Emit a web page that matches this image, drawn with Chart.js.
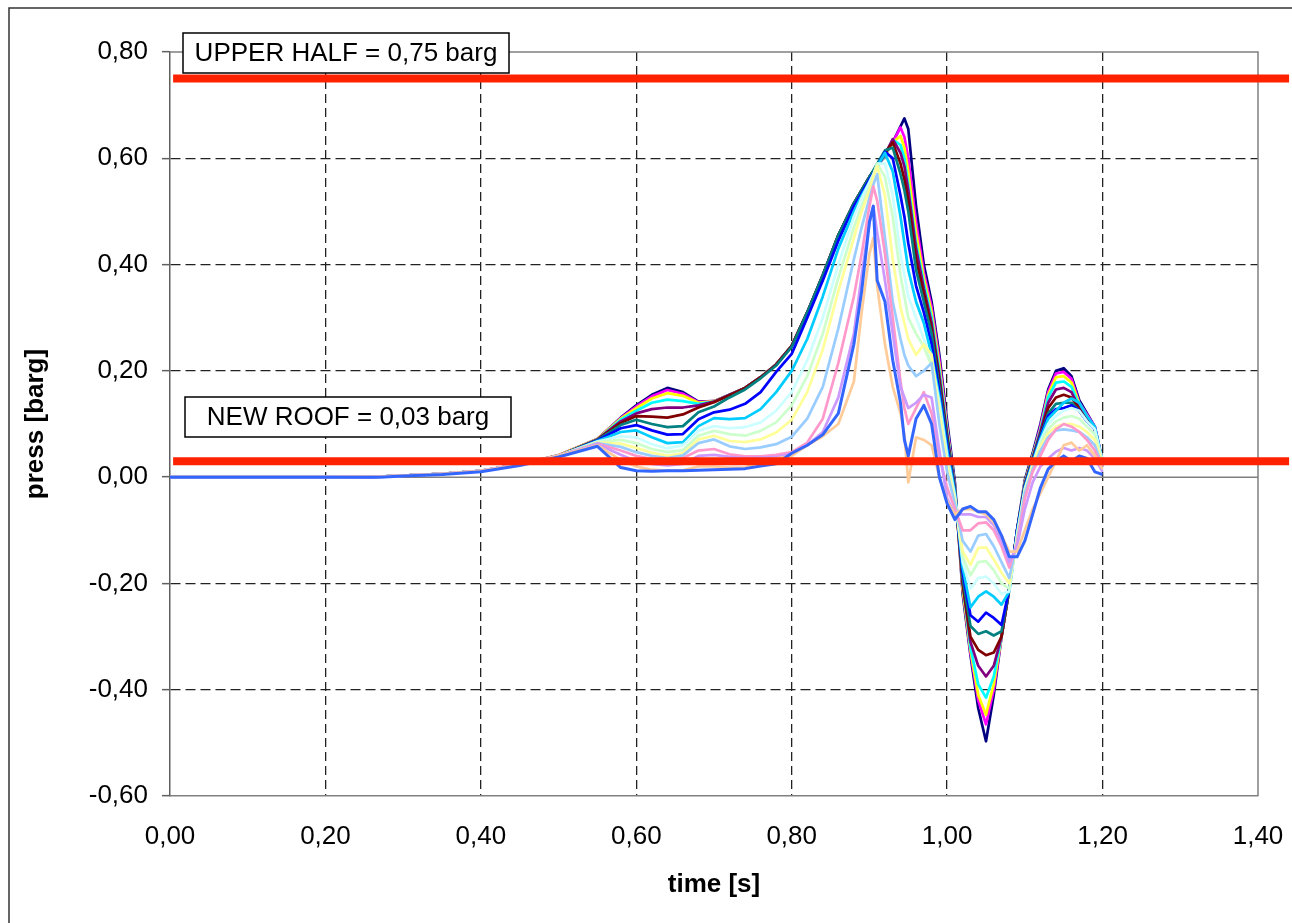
<!DOCTYPE html>
<html>
<head>
<meta charset="utf-8">
<script src="https://cdn.jsdelivr.net/npm/chart.js@4.4.0/dist/chart.umd.min.js"></script>
<style>
  html, body { margin: 0; padding: 0; background: #ffffff; }
  canvas { display: block; }
</style>
</head>
<body>
<canvas id="chart" width="1292" height="923"></canvas>
<script>
// Sample times [s]
const timeS = [0, 0.1, 0.2, 0.27, 0.3, 0.35, 0.4, 0.45, 0.5, 0.55,
  0.58, 0.6, 0.62, 0.64, 0.66, 0.68, 0.7, 0.72, 0.74, 0.76,
  0.78, 0.8, 0.82, 0.84, 0.86, 0.88, 0.89, 0.9, 0.905, 0.91,
  0.92, 0.93, 0.94, 0.945, 0.95, 0.96, 0.97, 0.98, 0.99, 1.0,
  1.01, 1.02, 1.03, 1.04, 1.05, 1.06, 1.07, 1.08, 1.09, 1.1,
  1.11, 1.12, 1.13, 1.14, 1.15, 1.16, 1.17, 1.18, 1.19, 1.2];

// Pressure traces [barg], one per measuring point
const p01 = [0, 0, 0, 0.001, 0.003, 0.006, 0.012, 0.024, 0.041, 0.072,
  0.112, 0.135, 0.155, 0.168, 0.160, 0.142, 0.143, 0.155, 0.168, 0.188,
  0.212, 0.247, 0.31, 0.38, 0.455, 0.515, 0.54, 0.565, 0.575, 0.585,
  0.605, 0.63, 0.66, 0.675, 0.655, 0.51, 0.40, 0.33, 0.23, 0.105,
  -0.01, -0.22, -0.335, -0.435, -0.497, -0.41, -0.30, -0.21, -0.10, -0.005,
  0.045, 0.10, 0.165, 0.20, 0.205, 0.19, 0.145, 0.12, 0.095, 0.03];
const p02 = [0, 0, 0, 0.001, 0.003, 0.006, 0.012, 0.024, 0.041, 0.072,
  0.111, 0.133, 0.152, 0.164, 0.157, 0.141, 0.143, 0.155, 0.168, 0.188,
  0.212, 0.247, 0.31, 0.38, 0.455, 0.515, 0.54, 0.565, 0.575, 0.585,
  0.605, 0.63, 0.658, 0.64, 0.60, 0.48, 0.385, 0.32, 0.22, 0.095,
  -0.02, -0.21, -0.33, -0.42, -0.465, -0.40, -0.30, -0.21, -0.10, -0.01,
  0.04, 0.095, 0.16, 0.195, 0.198, 0.185, 0.14, 0.118, 0.095, 0.03];
const p03 = [0, 0, 0, 0.001, 0.003, 0.006, 0.012, 0.024, 0.041, 0.072,
  0.110, 0.130, 0.148, 0.158, 0.153, 0.140, 0.143, 0.155, 0.168, 0.188,
  0.212, 0.247, 0.31, 0.38, 0.455, 0.515, 0.54, 0.565, 0.575, 0.585,
  0.605, 0.63, 0.642, 0.62, 0.575, 0.46, 0.375, 0.31, 0.21, 0.09,
  -0.02, -0.21, -0.325, -0.41, -0.447, -0.39, -0.30, -0.21, -0.10, -0.01,
  0.04, 0.09, 0.155, 0.188, 0.19, 0.178, 0.138, 0.115, 0.09, 0.03];
const p04 = [0, 0, 0, 0.001, 0.003, 0.006, 0.012, 0.024, 0.040, 0.071,
  0.108, 0.125, 0.140, 0.146, 0.143, 0.138, 0.142, 0.155, 0.168, 0.188,
  0.212, 0.247, 0.31, 0.38, 0.455, 0.515, 0.54, 0.565, 0.575, 0.585,
  0.605, 0.635, 0.625, 0.60, 0.55, 0.44, 0.365, 0.30, 0.20, 0.085,
  -0.02, -0.20, -0.32, -0.39, -0.415, -0.375, -0.30, -0.21, -0.10, -0.012,
  0.038, 0.088, 0.15, 0.178, 0.18, 0.17, 0.135, 0.112, 0.09, 0.03];
const p05 = [0, 0, 0, 0.001, 0.003, 0.006, 0.012, 0.024, 0.040, 0.071,
  0.105, 0.120, 0.128, 0.131, 0.131, 0.135, 0.142, 0.155, 0.168, 0.188,
  0.212, 0.247, 0.31, 0.38, 0.455, 0.515, 0.54, 0.565, 0.575, 0.585,
  0.607, 0.636, 0.61, 0.585, 0.54, 0.43, 0.355, 0.29, 0.19, 0.08,
  -0.02, -0.20, -0.31, -0.355, -0.375, -0.355, -0.30, -0.21, -0.10, -0.012,
  0.036, 0.085, 0.14, 0.165, 0.168, 0.16, 0.13, 0.11, 0.09, 0.03];
const p06 = [0, 0, 0, 0.001, 0.003, 0.006, 0.012, 0.024, 0.040, 0.070,
  0.102, 0.115, 0.114, 0.112, 0.118, 0.131, 0.141, 0.154, 0.168, 0.188,
  0.212, 0.247, 0.31, 0.38, 0.455, 0.515, 0.54, 0.565, 0.576, 0.587,
  0.61, 0.63, 0.59, 0.56, 0.52, 0.41, 0.345, 0.28, 0.18, 0.075,
  -0.025, -0.20, -0.30, -0.325, -0.335, -0.33, -0.30, -0.21, -0.10, -0.015,
  0.034, 0.08, 0.13, 0.15, 0.155, 0.15, 0.128, 0.108, 0.09, 0.03];
const p07 = [0, 0, 0, 0.001, 0.003, 0.006, 0.012, 0.024, 0.040, 0.070,
  0.098, 0.108, 0.100, 0.094, 0.096, 0.122, 0.133, 0.150, 0.165, 0.186,
  0.210, 0.245, 0.31, 0.38, 0.455, 0.515, 0.54, 0.565, 0.577, 0.59,
  0.615, 0.62, 0.57, 0.54, 0.50, 0.39, 0.33, 0.27, 0.17, 0.07,
  -0.025, -0.19, -0.28, -0.295, -0.29, -0.298, -0.29, -0.21, -0.10, -0.015,
  0.032, 0.078, 0.12, 0.138, 0.14, 0.14, 0.125, 0.105, 0.09, 0.03];
const p08 = [0, 0, 0, 0.001, 0.003, 0.006, 0.012, 0.024, 0.040, 0.069,
  0.092, 0.098, 0.088, 0.080, 0.081, 0.109, 0.122, 0.127, 0.138, 0.160,
  0.198, 0.232, 0.30, 0.37, 0.445, 0.51, 0.535, 0.56, 0.572, 0.585,
  0.612, 0.60, 0.53, 0.49, 0.44, 0.36, 0.31, 0.25, 0.16, 0.06,
  -0.03, -0.18, -0.26, -0.272, -0.255, -0.265, -0.278, -0.21, -0.10, -0.018,
  0.03, 0.075, 0.115, 0.128, 0.13, 0.135, 0.125, 0.105, 0.09, 0.03];
const p09 = [0, 0, 0, 0.001, 0.003, 0.006, 0.012, 0.024, 0.040, 0.068,
  0.085, 0.088, 0.075, 0.064, 0.066, 0.096, 0.111, 0.109, 0.111, 0.128,
  0.160, 0.200, 0.26, 0.34, 0.43, 0.50, 0.53, 0.555, 0.57, 0.585,
  0.61, 0.575, 0.49, 0.44, 0.39, 0.33, 0.29, 0.23, 0.15, 0.05,
  -0.03, -0.17, -0.245, -0.225, -0.215, -0.225, -0.24, -0.215, -0.105, -0.02,
  0.028, 0.072, 0.11, 0.125, 0.14, 0.148, 0.14, 0.115, 0.095, 0.03];
const p10 = [0, 0, 0, 0.001, 0.003, 0.006, 0.012, 0.024, 0.040, 0.067,
  0.077, 0.075, 0.062, 0.054, 0.060, 0.087, 0.096, 0.092, 0.094, 0.103,
  0.125, 0.160, 0.22, 0.30, 0.40, 0.49, 0.525, 0.555, 0.57, 0.59,
  0.59, 0.53, 0.42, 0.38, 0.34, 0.30, 0.26, 0.22, 0.14, 0.04,
  -0.035, -0.16, -0.21, -0.19, -0.187, -0.20, -0.22, -0.215, -0.11, -0.022,
  0.025, 0.068, 0.10, 0.115, 0.125, 0.13, 0.125, 0.105, 0.09, 0.03];
const p11 = [0, 0, 0, 0.001, 0.003, 0.006, 0.012, 0.024, 0.040, 0.066,
  0.070, 0.064, 0.053, 0.047, 0.051, 0.078, 0.087, 0.081, 0.078, 0.087,
  0.103, 0.135, 0.19, 0.27, 0.375, 0.47, 0.51, 0.545, 0.568, 0.59,
  0.565, 0.49, 0.38, 0.34, 0.30, 0.27, 0.245, 0.21, 0.13, 0.03,
  -0.04, -0.15, -0.185, -0.16, -0.158, -0.175, -0.20, -0.21, -0.11, -0.025,
  0.022, 0.063, 0.09, 0.105, 0.112, 0.115, 0.11, 0.095, 0.08, 0.03];
const p12 = [0, 0, 0, 0.001, 0.003, 0.006, 0.012, 0.024, 0.040, 0.065,
  0.063, 0.055, 0.046, 0.040, 0.045, 0.071, 0.078, 0.068, 0.066, 0.071,
  0.084, 0.108, 0.16, 0.24, 0.35, 0.45, 0.50, 0.54, 0.565, 0.585,
  0.53, 0.41, 0.32, 0.29, 0.26, 0.23, 0.25, 0.23, 0.12, 0.02,
  -0.045, -0.14, -0.165, -0.133, -0.132, -0.155, -0.18, -0.20, -0.115, -0.028,
  0.02, 0.058, 0.082, 0.095, 0.10, 0.10, 0.095, 0.085, 0.07, 0.025];
const p13 = [0, 0, 0, 0.001, 0.003, 0.006, 0.012, 0.024, 0.040, 0.064,
  0.057, 0.047, 0.040, 0.036, 0.041, 0.064, 0.071, 0.058, 0.053, 0.056,
  0.062, 0.076, 0.11, 0.17, 0.28, 0.41, 0.47, 0.525, 0.55, 0.57,
  0.45, 0.33, 0.26, 0.23, 0.21, 0.19, 0.20, 0.215, 0.10, 0.01,
  -0.05, -0.12, -0.14, -0.11, -0.107, -0.13, -0.16, -0.19, -0.12, -0.03,
  0.015, 0.05, 0.075, 0.088, 0.09, 0.088, 0.085, 0.075, 0.06, 0.02];
const p14 = [0, 0, 0, 0.001, 0.003, 0.006, 0.012, 0.024, 0.040, 0.063,
  0.050, 0.040, 0.034, 0.030, 0.036, 0.050, 0.053, 0.043, 0.039, 0.039,
  0.042, 0.047, 0.065, 0.11, 0.215, 0.34, 0.42, 0.51, 0.547, 0.52,
  0.42, 0.30, 0.18, 0.13, 0.10, 0.13, 0.16, 0.12, 0.04, -0.02,
  -0.06, -0.10, -0.10, -0.087, -0.085, -0.10, -0.13, -0.17, -0.125, -0.04,
  0.01, 0.04, 0.07, 0.09, 0.10, 0.095, 0.085, 0.07, 0.05, 0.02];
const p15 = [0, 0, 0, 0.001, 0.003, 0.006, 0.012, 0.024, 0.040, 0.062,
  0.042, 0.030, 0.025, 0.022, 0.025, 0.040, 0.042, 0.038, 0.036, 0.037,
  0.038, 0.044, 0.06, 0.085, 0.15, 0.27, 0.38, 0.48, 0.51, 0.46,
  0.37, 0.27, 0.17, 0.15, 0.13, 0.14, 0.155, 0.15, 0.05, -0.04,
  -0.07, -0.07, -0.07, -0.075, -0.075, -0.09, -0.12, -0.16, -0.13, -0.06,
  -0.01, 0.02, 0.035, 0.048, 0.055, 0.05, 0.055, 0.05, 0.035, 0.01];
const p16 = [0, 0, 0, 0.001, 0.003, 0.006, 0.012, 0.023, 0.040, 0.060,
  0.032, 0.020, 0.014, 0.012, 0.013, 0.020, 0.020, 0.018, 0.018, 0.030,
  0.035, 0.040, 0.06, 0.077, 0.10, 0.18, 0.31, 0.42, 0.45, 0.36,
  0.25, 0.17, 0.12, 0.08, -0.01, 0.075, 0.07, 0.06, 0.00, -0.045,
  -0.07, -0.06, -0.06, -0.065, -0.07, -0.085, -0.11, -0.14, -0.14, -0.10,
  -0.06, -0.03, 0.00, 0.03, 0.06, 0.065, 0.05, 0.06, 0.04, 0.015];
const p17 = [0, 0, 0, 0, 0.002, 0.005, 0.010, 0.022, 0.038, 0.058,
  0.018, 0.012, 0.011, 0.012, 0.012, 0.013, 0.014, 0.015, 0.016, 0.021,
  0.025, 0.045, 0.06, 0.08, 0.12, 0.25, 0.35, 0.48, 0.51, 0.37,
  0.33, 0.22, 0.14, 0.07, 0.04, 0.11, 0.135, 0.10, 0.00, -0.05,
  -0.08, -0.06, -0.055, -0.065, -0.065, -0.08, -0.11, -0.15, -0.15, -0.12,
  -0.07, -0.02, 0.015, 0.03, 0.04, 0.03, 0.04, 0.035, 0.01, 0.005];

const traces = [p01, p02, p03, p04, p05, p06, p07, p08, p09, p10, p11, p12, p13, p14, p15, p16, p17];
const traceColours = ['#000080', '#FF00FF', '#FFFF00', '#00FFFF', '#800080', '#800000', '#008080', '#0000FF',
  '#00CCFF', '#CCFFFF', '#CCFFCC', '#FFFF99', '#99CCFF', '#FF99CC', '#CC99FF', '#FFCC99', '#3366FF'];

// Design limits [barg] and their captions
const limitValues = [0.75, 0.03];
const limitLabels = ['UPPER HALF = 0,75 barg', 'NEW ROOF = 0,03 barg'];
const limitSpan = [0.004, 1.44];

// Axes
const xTicks = [0, 0.2, 0.4, 0.6, 0.8, 1.0, 1.2, 1.4];
const yTicks = [-0.6, -0.4, -0.2, 0, 0.2, 0.4, 0.6, 0.8];
const xTitle = 'time [s]';
const yTitle = 'press [barg]';

const FONT = "'Liberation Sans', Arial, Helvetica, sans-serif";
const fmt = v => Number(v).toFixed(2).replace('.', ',');

// Caption boxes (pixel layout)
const captionBoxes = [
  { left: 183, top: 33, width: 326, height: 40 },
  { left: 185, top: 397, width: 326, height: 40 }
];

const datasets = traces.map((vals, k) => ({
  data: timeS.map((t, i) => ({ x: t, y: vals[i] })),
  borderColor: traceColours[k],
  borderWidth: k === 16 ? 3 : 2.7,
  pointRadius: 0,
  tension: 0,
  fill: false,
  borderJoinStyle: 'round',
  order: -k
}));

limitValues.forEach(v => {
  datasets.push({
    data: limitSpan.map(x => ({ x: x, y: v })),
    borderColor: '#FF2200',
    borderWidth: 8,
    pointRadius: 0,
    fill: false,
    clip: false,
    borderCapStyle: 'butt',
    order: -100
  });
});

const hidden = 'rgba(0,0,0,0)';

const decorPlugin = {
  id: 'decor',
  beforeDraw(chart) {
    const ctx = chart.ctx;
    ctx.save();
    ctx.fillStyle = '#ffffff';
    ctx.fillRect(0, 0, chart.width, chart.height);
    ctx.strokeStyle = '#333333';
    ctx.lineWidth = 1.5;
    ctx.beginPath();
    ctx.moveTo(9, chart.height);
    ctx.lineTo(9, 8);
    ctx.lineTo(chart.width, 8);
    ctx.stroke();
    ctx.restore();
  },
  beforeDatasetsDraw(chart) {
    const { ctx, chartArea: a, scales } = chart;
    ctx.save();
    ctx.strokeStyle = '#808080';
    ctx.lineWidth = 1.5;
    ctx.beginPath();
    ctx.moveTo(a.left, a.top);
    ctx.lineTo(a.right, a.top);
    ctx.lineTo(a.right, a.bottom);
    const y0 = scales.y.getPixelForValue(0);
    ctx.moveTo(a.left, y0);
    ctx.lineTo(a.right, y0);
    ctx.stroke();
    ctx.restore();
  },
  afterDatasetsDraw(chart) {
    const ctx = chart.ctx;
    ctx.save();
    ctx.font = '26px ' + FONT;
    ctx.textAlign = 'center';
    ctx.textBaseline = 'middle';
    captionBoxes.forEach((b, i) => {
      ctx.fillStyle = '#ffffff';
      ctx.fillRect(b.left, b.top, b.width, b.height);
      ctx.strokeStyle = '#000000';
      ctx.lineWidth = 1.5;
      ctx.strokeRect(b.left, b.top, b.width, b.height);
      ctx.fillStyle = '#000000';
      ctx.fillText(limitLabels[i], b.left + b.width / 2, b.top + b.height / 2 + 1);
    });
    ctx.restore();
  }
};

new Chart(document.getElementById('chart'), {
  type: 'line',
  data: { datasets: datasets },
  options: {
    responsive: false,
    devicePixelRatio: 1,
    animation: false,
    events: [],
    layout: { padding: { left: 16, right: 34, top: 52, bottom: 19 } },
    plugins: { legend: { display: false }, tooltip: { enabled: false } },
    scales: {
      x: {
        type: 'linear',
        min: 0,
        max: 1.4,
        afterBuildTicks: s => { s.ticks = xTicks.map(v => ({ value: v })); },
        afterFit: s => { s.height = 108; },
        grid: {
          color: c => (c.tick && (c.tick.value === xTicks[0] || c.tick.value === xTicks[xTicks.length - 1])) ? hidden : '#222222',
          lineWidth: 1.3,
          drawTicks: true,
          tickLength: 25,
          tickColor: hidden
        },
        border: { display: true, color: '#808080', width: 1.5, dash: [9, 5] },
        ticks: {
          callback: v => fmt(v),
          font: { family: FONT, size: 26 },
          color: '#000000',
          padding: 0,
          maxRotation: 0,
          autoSkip: false
        },
        title: {
          display: true,
          text: xTitle,
          font: { family: FONT, size: 26, weight: 'bold' },
          color: '#000000',
          padding: { top: 4, bottom: 4 }
        }
      },
      y: {
        type: 'linear',
        min: -0.6,
        max: 0.8,
        afterBuildTicks: s => { s.ticks = yTicks.map(v => ({ value: v })); },
        afterFit: s => { s.width = 154; },
        grid: {
          color: c => (c.tick && (c.tick.value === 0 || c.tick.value === yTicks[0] || c.tick.value === yTicks[yTicks.length - 1])) ? hidden : '#222222',
          lineWidth: 1.3,
          drawTicks: true,
          tickLength: 8,
          tickColor: '#606060',
          tickWidth: 1.5
        },
        border: { display: true, color: '#606060', width: 1.5, dash: [10, 5] },
        ticks: {
          callback: v => fmt(v),
          font: { family: FONT, size: 26 },
          color: '#000000',
          padding: 14,
          autoSkip: false
        },
        title: {
          display: true,
          text: yTitle,
          font: { family: FONT, size: 26, weight: 'bold' },
          color: '#000000',
          padding: { top: 4, bottom: 4 }
        }
      }
    }
  },
  plugins: [decorPlugin]
});
</script>
</body>
</html>
